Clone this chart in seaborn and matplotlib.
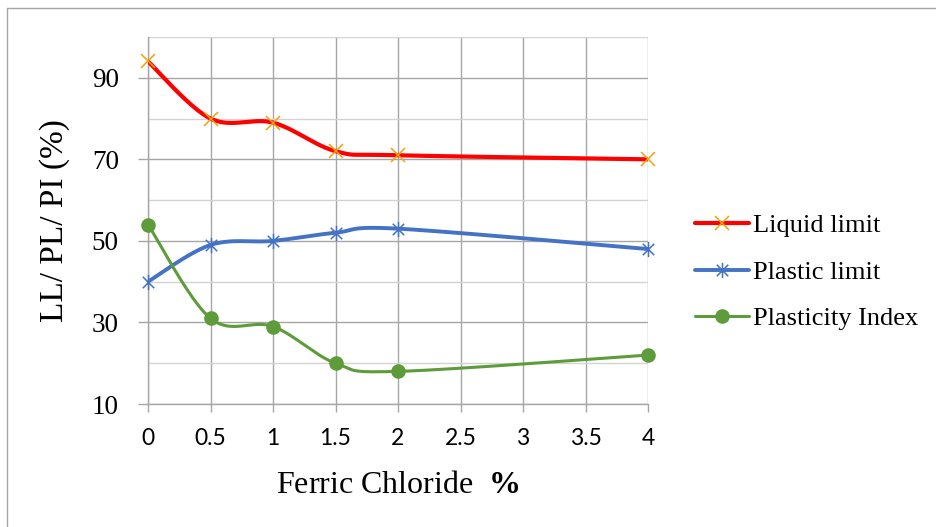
import numpy as np
import pandas as pd
import matplotlib
matplotlib.use("Agg")
import matplotlib.pyplot as plt
from matplotlib.path import Path
from matplotlib.lines import Line2D
import seaborn as sns

# Category axis labels (evenly spaced, as in a category axis)
x_labels = ["0", "0.5", "1", "1.5", "2", "2.5", "3", "3.5", "4"]
# Ferric chloride contents that were tested
fecl_pct = ["0", "0.5", "1", "1.5", "2", "4"]
liquid_limit = [94, 80, 79, 72, 71, 70]
plastic_limit = [40, 49, 50, 52, 53, 48]
plasticity_index = [54, 31, 29, 20, 18, 22]

series_names = ["Liquid limit", "Plastic limit", "Plasticity Index"]
series_values = [liquid_limit, plastic_limit, plasticity_index]

sns.set_theme(style="white")
plt.rcParams["font.family"] = ["Liberation Serif", "DejaVu Serif"]
plt.rcParams["mathtext.fontset"] = "custom"
plt.rcParams["mathtext.rm"] = "Liberation Serif"
plt.rcParams["mathtext.bf"] = "Liberation Serif:bold"

pos = np.array([x_labels.index(v) for v in fecl_pct], dtype=float)


def smooth_curve(xs, ys, n=40):
    """Catmull-Rom style Bezier smoothing through the given points."""
    pts = np.column_stack([xs, ys]).astype(float)
    ext = np.vstack([pts[0], pts, pts[-1]])
    out = []
    t = np.linspace(0, 1, n)[:, None]
    for i in range(len(pts) - 1):
        p0, p1, p2, p3 = ext[i], ext[i + 1], ext[i + 2], ext[i + 3]
        b1 = p1 + (p2 - p0) / 6.0
        b2 = p2 - (p3 - p1) / 6.0
        seg = ((1 - t) ** 3) * p1 + 3 * ((1 - t) ** 2) * t * b1 + 3 * (1 - t) * t ** 2 * b2 + t ** 3 * p2
        out.append(seg if i == 0 else seg[1:])
    c = np.vstack(out)
    return c[:, 0], c[:, 1]


curve_rows = []
point_rows = []
for name, vals in zip(series_names, series_values):
    cx, cy = smooth_curve(pos, vals)
    for k, (a, b) in enumerate(zip(cx, cy)):
        curve_rows.append({"series": name, "order": k, "x": a, "y": b})
    for a, b in zip(pos, vals):
        point_rows.append({"series": name, "x": a, "y": b})
curves = pd.DataFrame(curve_rows)
points = pd.DataFrame(point_rows)

line_colors = {"Liquid limit": "#FF0000", "Plastic limit": "#4472C4", "Plasticity Index": "#5E9B3A"}
line_widths = {"Liquid limit": 3.0, "Plastic limit": 2.8, "Plasticity Index": 2.2}

# asterisk marker: vertical bar plus a diagonal cross
star_path = Path(
    [(0, -1), (0, 1), (-0.75, -0.75), (0.75, 0.75), (-0.75, 0.75), (0.75, -0.75)],
    [Path.MOVETO, Path.LINETO, Path.MOVETO, Path.LINETO, Path.MOVETO, Path.LINETO],
)
marker_style = {
    "Liquid limit": dict(marker="x", markersize=10, markeredgewidth=1.1,
                         markeredgecolor="#F0A30A", markerfacecolor="none"),
    "Plastic limit": dict(marker=star_path, markersize=11, markeredgewidth=1.1,
                          markeredgecolor="#4472C4", markerfacecolor="none"),
    "Plasticity Index": dict(marker="o", markersize=10.5, markeredgewidth=0,
                             markeredgecolor="#5E9B3A", markerfacecolor="#5E9B3A"),
}

fig = plt.figure(figsize=(9.36, 5.27), dpi=100)
ax = fig.add_axes([148 / 936, 1 - 404 / 527, 500 / 936, 367 / 527])

for name in series_names:
    sub = curves[curves["series"] == name]
    sns.lineplot(data=sub, x="x", y="y", sort=False, ax=ax, color=line_colors[name],
                 linewidth=line_widths[name], estimator=None, legend=False, zorder=3,
                 solid_capstyle="round")
for name in series_names:
    sub = points[points["series"] == name]
    ax.plot(sub["x"], sub["y"], linestyle="none", zorder=4, clip_on=False, **marker_style[name])

ax.set_xlim(0, len(x_labels) - 1)
ax.set_ylim(10, 100)
ax.set_xticks(range(len(x_labels)))
ax.set_xticklabels(x_labels, family=["Lato", "DejaVu Sans"], fontsize=16.5)
ax.set_yticks([10, 30, 50, 70, 90])
ax.set_yticks([20, 40, 60, 80, 100], minor=True)
for lab in ax.get_yticklabels():
    lab.set_fontsize(19.5)

ax.grid(True, which="major", axis="both", color="#A6A6A6", linewidth=1.0)
ax.grid(True, which="minor", axis="y", color="#D3D3D3", linewidth=1.0)
ax.set_axisbelow(True)

for side in ["top", "right"]:
    ax.spines[side].set_visible(False)
ax.spines["left"].set_color("#A6A6A6")
ax.spines["bottom"].set_color("#A6A6A6")
ax.spines["left"].set_linewidth(1.0)
ax.spines["bottom"].set_linewidth(1.0)
ax.tick_params(axis="x", which="major", direction="out", length=6, width=1.0,
               color="#A6A6A6", pad=11, bottom=True, labelcolor="black")
ax.tick_params(axis="y", which="major", direction="out", length=7, width=1.0,
               color="#A6A6A6", pad=14, left=True, labelcolor="black")
ax.tick_params(axis="y", which="minor", length=0)

ax.set_xlabel("Ferric Chloride  $\\mathbf{\\%}$", fontsize=23, labelpad=16)
ax.set_ylabel("LL/ PL/ PI (%)", fontsize=24, labelpad=16)
ax.xaxis.label.set_color("black")
ax.yaxis.label.set_color("black")

handles = []
for name in series_names:
    handles.append(Line2D([], [], color=line_colors[name], linewidth=line_widths[name],
                          **marker_style[name]))
leg = fig.legend(handles, series_names, loc="center left", bbox_to_anchor=(695 / 936, 1 - 272 / 527),
                 frameon=False, fontsize=19, handlelength=2.05, handletextpad=0.15,
                 labelspacing=0.88, borderaxespad=0, borderpad=0)
for t in leg.get_texts():
    t.set_color("black")

# chart frame
fig.add_artist(Line2D([7 / 936, 7 / 936], [0, 1 - 8 / 527], transform=fig.transFigure,
                      color="#A6A6A6", linewidth=1.0))
fig.add_artist(Line2D([7 / 936, 1], [1 - 8 / 527, 1 - 8 / 527], transform=fig.transFigure,
                      color="#A6A6A6", linewidth=1.0))

fig.savefig("out.png", dpi=100)
